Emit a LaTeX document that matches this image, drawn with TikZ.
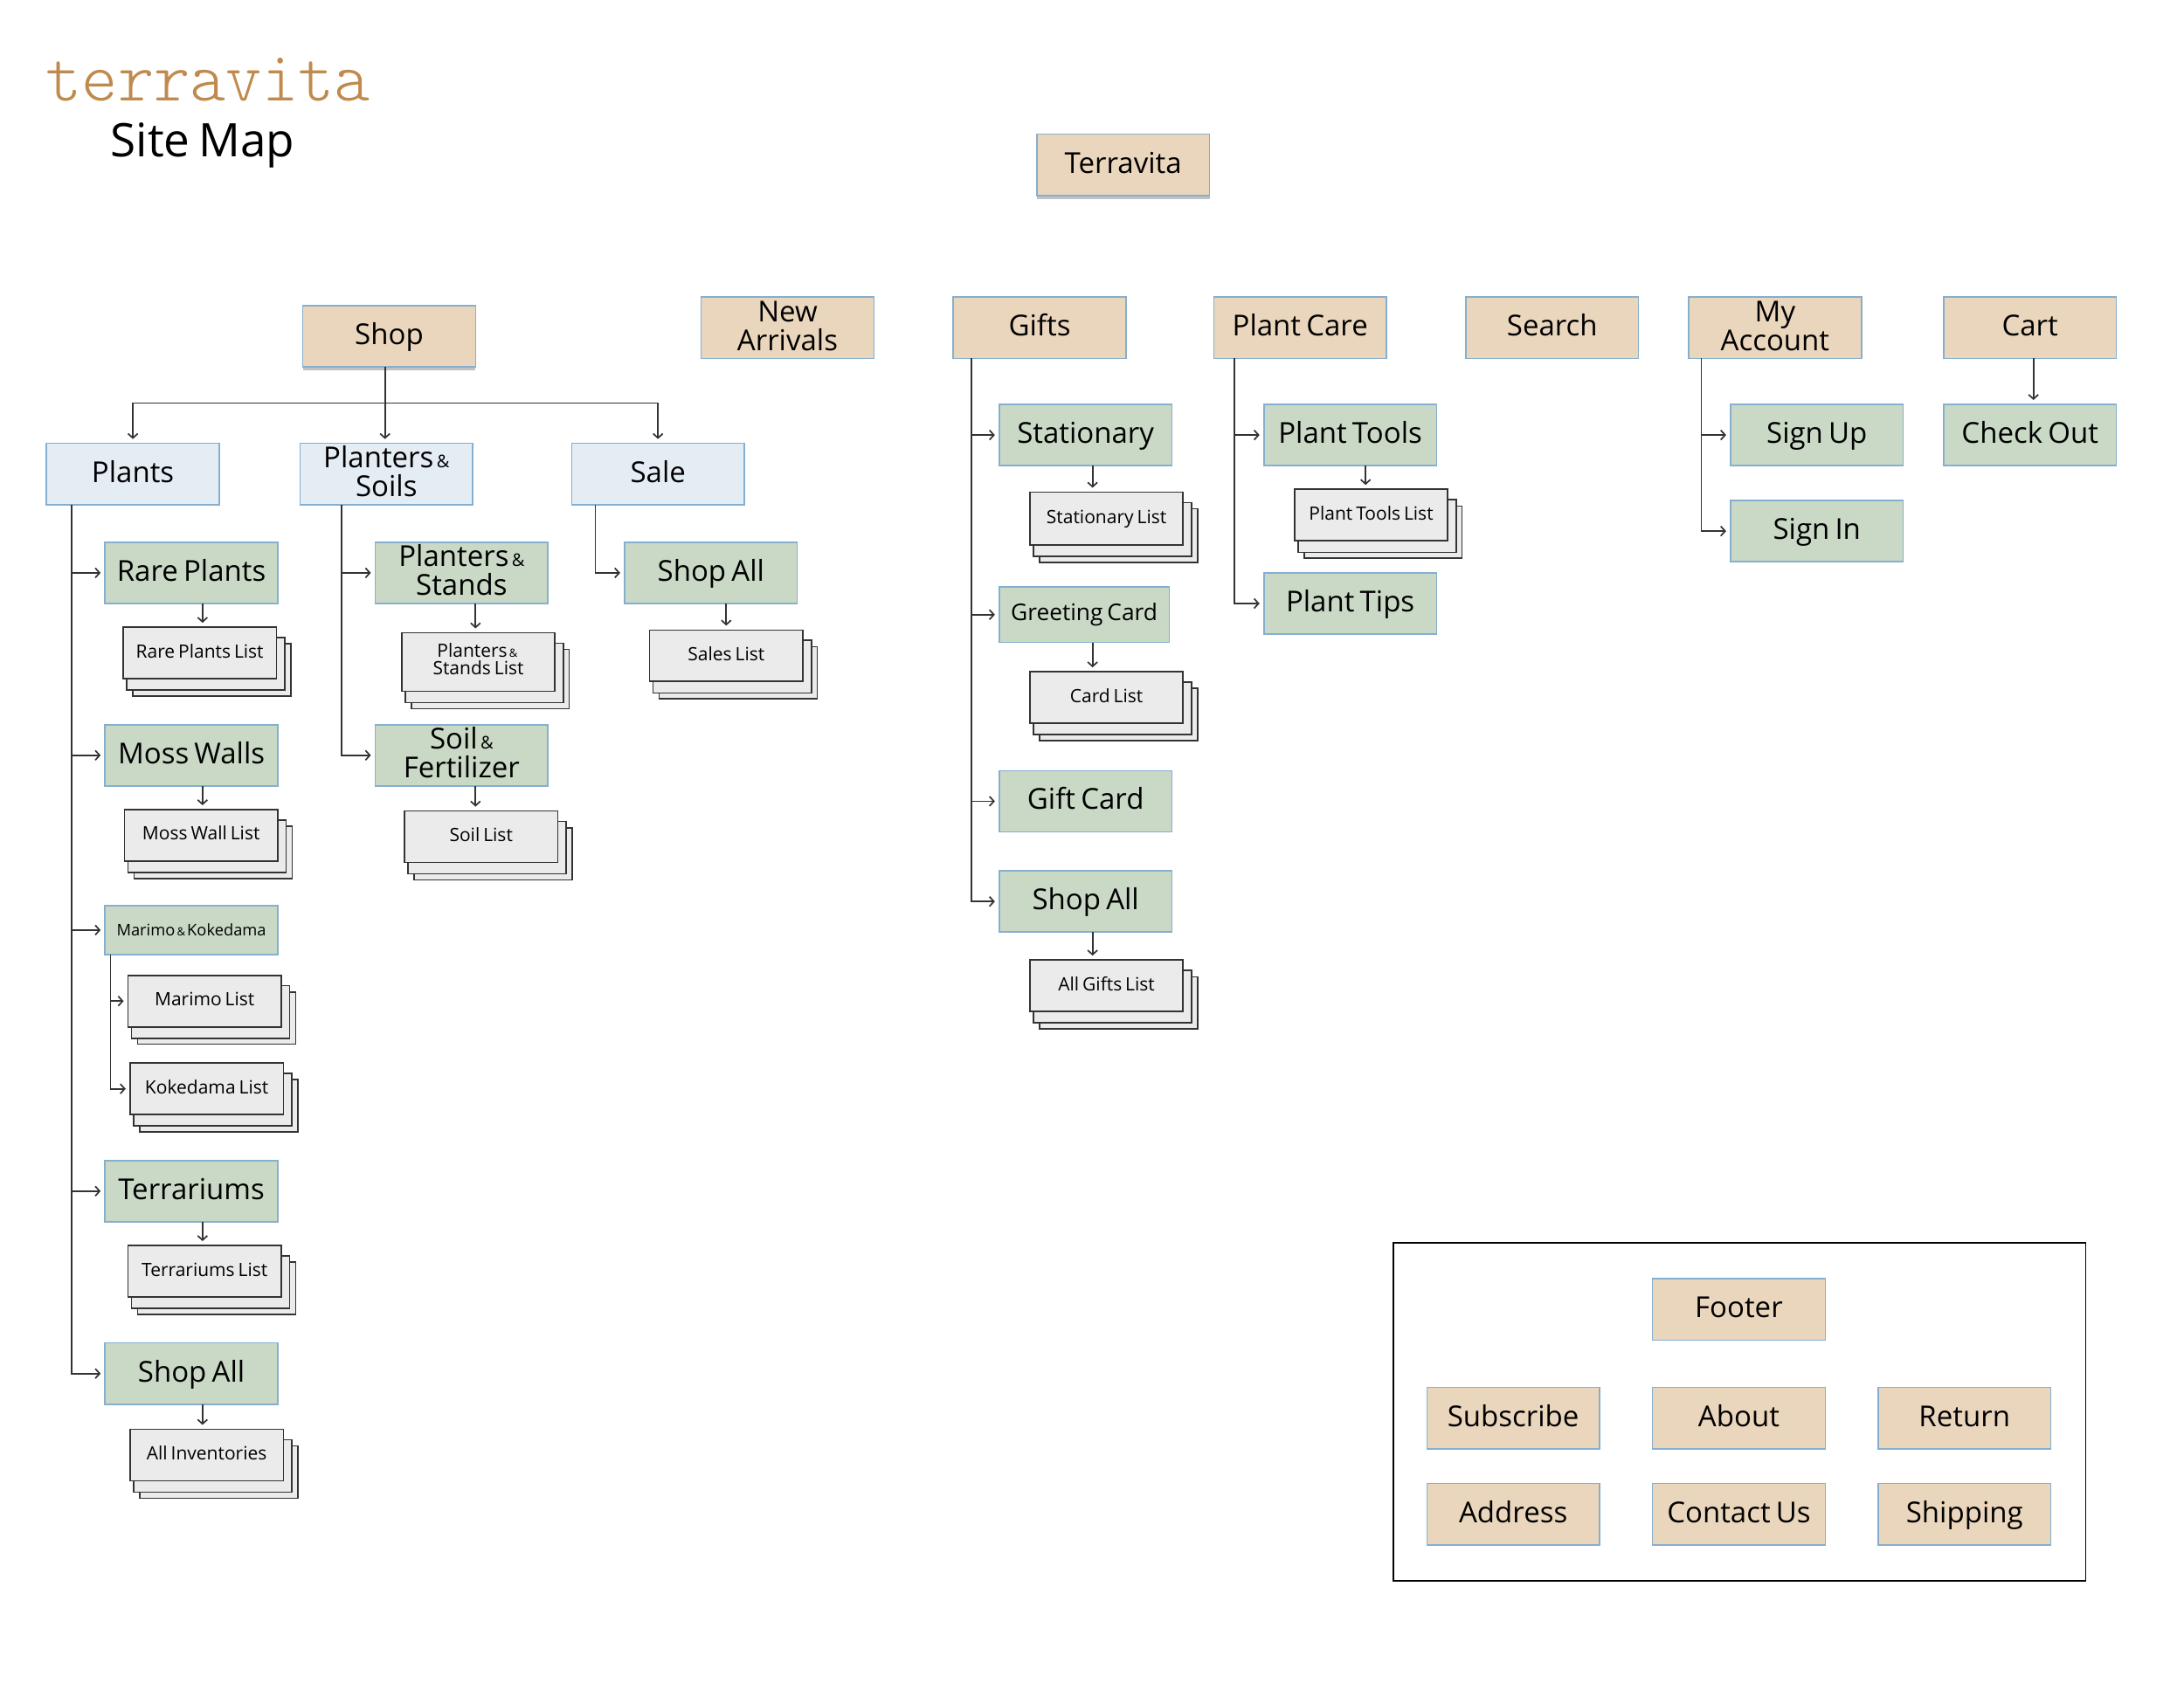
\documentclass[tikz,border=0pt]{standalone}
\usepackage{fontspec}
\setmainfont[WordSpace=0.72]{Open Sans}
\newfontfamily\logofont{Latin Modern Mono Light}
\usetikzlibrary{arrows.meta,shadows}
\definecolor{beige}{HTML}{EAD6BC}
\definecolor{paleblue}{HTML}{E4ECF4}
\definecolor{sage}{HTML}{C9D9C6}
\definecolor{edgeblue}{HTML}{86AFCF}
\definecolor{stackfill}{HTML}{EBEBEB}
\definecolor{linegray}{HTML}{333333}
\definecolor{logobrown}{HTML}{C08A4E}
\newcommand{\tp}{\rule{0pt}{27pt}}
\newcommand{\bt}{\rule[-8pt]{0pt}{8pt}}
\newcommand{\amp}{{\fontsize{20}{20}\selectfont\,\&}}
\newcommand{\ampS}{{\fontsize{13}{13}\selectfont\,\&\,}}
\newcommand{\bx}[7][]{\node[boxbase,#2,#1,minimum width={(#5-#3)*1.5944pt},minimum height={(#6-#4)*1.5944pt}] (#7) at ({(#3+#5)/2},{(#4+#6)/2})}
\newcommand{\stk}[6][]{%
  \draw[stacklayer] ({#3+6.9},{#4+12}) rectangle ({#5+10.3},{#6+12.5});
  \draw[stacklayer] ({#3+2.5},{#4+7.5}) rectangle ({#5+6.1},{#6+8.2});
  \node[stackfront,#1,minimum width={(#5-#3)*1.5944pt},minimum height={(#6-#4)*1.5944pt}] (#2) at ({(#3+#5)/2},{(#4+#6)/2})}
\newcommand{\vc}[3]{\coordinate (tmpv) at (#3,0); \draw[conn] (#1.south -| tmpv) -- (#2.north -| tmpv);}
\tikzset{
  boxbase/.style={draw=edgeblue,line width=1.6pt,inner sep=0pt,outer sep=0pt,align=center,font=\fontsize{33}{33}\selectfont},
  toptier/.style={fill=beige},
  midtier/.style={fill=paleblue},
  subtier/.style={fill=sage},
  panel/.style={draw=black,fill=white},
  softshadow/.style={drop shadow={shadow xshift=0pt,shadow yshift=-4pt,opacity=.4,fill=black!60}},
  stacklayer/.style={draw=linegray,fill=stackfill,line width=1.6pt},
  stackfront/.style={draw=linegray,fill=stackfill,line width=1.6pt,inner sep=0pt,outer sep=0pt,align=center,font=\fontsize{21}{20.5}\selectfont,
    execute at begin node={\rule{0pt}{18pt}},execute at end node={\rule[-7pt]{0pt}{7pt}}},
  conn/.style={draw=linegray,line width=1.7pt,-{Straight Barb[length=5pt,width=11pt]},shorten >=5pt},
}
\begin{document}
\begin{tikzpicture}[x=1.59439pt,y=-1.59437pt]
\useasboundingbox (0,0) rectangle (1568,1208);
\fill[white] (0,0) rectangle (1568,1208);
\begin{scope}[shift={(0.4,0.4)}]

\node[font=\fontsize{81}{81}\logofont\selectfont,text=logobrown,anchor=base,inner sep=0pt,xscale=.97] (logo) at (149,72) {terravita};
\node[font=\fontsize{53}{53}\selectfont,anchor=base,inner sep=0pt] (title) at (145,112) {Site Map};

% top tier
\bx[softshadow]{toptier}{744}{96}{868}{140}{terravita} {\tp\bt Terravita};
\bx[softshadow]{toptier}{217}{219}{341}{263}{shop} {\tp\bt Shop};
\bx{toptier}{503}{213}{627}{257}{newarr} {\tp New\\\bt Arrivals};
\bx{toptier}{684}{213}{808}{257}{gifts} {\tp\bt Gifts};
\bx{toptier}{871}{213}{995}{257}{care} {\tp\bt Plant Care};
\bx{toptier}{1052}{213}{1176}{257}{search} {\tp\bt Search};
\bx{toptier}{1212}{213}{1336}{257}{account} {\tp My\\\bt Account};
\bx{toptier}{1395}{213}{1519}{257}{cart} {\tp\bt Cart};

% second tier
\bx{midtier}{33}{318}{157}{362}{plants} {\tp\bt Plants};
\bx{midtier}{215}{318}{339}{362}{planters} {\tp Planters\amp\\\bt Soils};
\bx{midtier}{410}{318}{534}{362}{sale} {\tp\bt Sale};

% plants column
\bx{subtier}{75}{389}{199}{433}{rare} {\tp\bt Rare Plants};
\bx{subtier}{75}{520}{199}{564}{moss} {\tp\bt Moss Walls};
\bx[font=\fontsize{18.3}{20}\selectfont]{subtier}{75}{650}{199}{685}{marimo} {Marimo\ampS Kokedama};
\bx{subtier}{75}{833}{199}{877}{terr} {\tp\bt Terrariums};
\bx{subtier}{75}{964}{199}{1008}{shopallA} {\tp\bt Shop All};
\stk{rarelist}{88}{450}{198}{487} {Rare Plants List};
\stk{mosslist}{89}{581}{199}{618} {Moss Wall List};
\stk{marimolist}{91.5}{700}{201.5}{737} {Marimo List};
\stk{kokelist}{93}{763}{203}{800} {Kokedama List};
\stk{terrlist}{91.5}{894}{201.5}{931} {Terrariums List};
\stk{invlist}{93}{1026}{203}{1063} {All Inventories};

% planters column
\bx{subtier}{269}{389}{393}{433}{stands} {\tp Planters\amp\\\bt Stands};
\bx{subtier}{269}{520}{393}{564}{soil} {\tp Soil\amp\\\bt Fertilizer};
\stk{standslist}{288}{454}{398}{496} {Planters\ampS\\Stands List};
\stk{soillist}{290}{582}{400}{619} {Soil List};

% sale column
\bx{subtier}{448}{389}{572}{433}{shopallB} {\tp\bt Shop All};
\stk{saleslist}{466}{452}{576}{489} {Sales List};

% gifts column
\bx{subtier}{717}{290}{841}{334}{stationary} {\tp\bt Stationary};
\bx[font=\fontsize{26.3}{30}\selectfont]{subtier}{717}{421}{839}{461}{greeting} {Greeting Card};
\bx{subtier}{717}{553}{841}{597}{giftcard} {\tp\bt Gift Card};
\bx{subtier}{717}{625}{841}{669}{shopallC} {\tp\bt Shop All};
\stk{statlist}{739}{353}{849}{391} {Stationary List};
\stk{cardlist}{739}{482}{849}{519} {Card List};
\stk{giftslist}{739}{689}{849}{726} {All Gifts List};

% plant care column
\bx{subtier}{907}{290}{1031}{334}{tools} {\tp\bt Plant Tools};
\bx{subtier}{907}{411}{1031}{455}{tips} {\tp\bt Plant Tips};
\stk{toolslist}{929}{351}{1039}{388} {Plant Tools List};

% account and cart
\bx{subtier}{1242}{290}{1366}{334}{signup} {\tp\bt Sign Up};
\bx{subtier}{1242}{359}{1366}{403}{signin} {\tp\bt Sign In};
\bx{subtier}{1395}{290}{1519}{334}{checkout} {\tp\bt Check Out};

% footer panel
\bx{panel}{1000}{892}{1497}{1135}{footerpanel} {};
\bx{toptier}{1186}{918}{1310}{962}{footer} {\tp\bt Footer};
\bx{toptier}{1024}{996}{1148}{1040}{subscribe} {\tp\bt Subscribe};
\bx{toptier}{1186}{996}{1310}{1040}{about} {\tp\bt About};
\bx{toptier}{1348}{996}{1472}{1040}{return} {\tp\bt Return};
\bx{toptier}{1024}{1065}{1148}{1109}{address} {\tp\bt Address};
\bx{toptier}{1186}{1065}{1310}{1109}{contact} {\tp\bt Contact Us};
\bx{toptier}{1348}{1065}{1472}{1109}{shipping} {\tp\bt Shipping};

% connectors
\coordinate (shopjoin) at (276,289);
\draw[conn] (shop.south -| shopjoin) -- (planters.north -| shopjoin);
\draw[conn] (shopjoin) -| (plants.north);
\draw[conn] (shopjoin) -| (sale.north);

\coordinate (spA) at (51,0);
\foreach \t in {rare,moss,marimo,terr,shopallA}
  \draw[conn] (plants.south -| spA) |- (\t.west);
\coordinate (spB) at (245,0);
\foreach \t in {stands,soil}
  \draw[conn] (planters.south -| spB) |- (\t.west);
\coordinate (spC) at (427,0);
\draw[conn] (sale.south -| spC) |- (shopallB.west);
\coordinate (spD) at (697,0);
\foreach \t in {stationary,greeting,giftcard,shopallC}
  \draw[conn] (gifts.south -| spD) |- (\t.west);
\coordinate (spE) at (886,0);
\foreach \t in {tools,tips}
  \draw[conn] (care.south -| spE) |- (\t.west);
\coordinate (spF) at (1221,0);
\foreach \t in {signup,signin}
  \draw[conn] (account.south -| spF) |- (\t.west);
\coordinate (spG) at (79,0);
\foreach \t in {marimolist,kokelist}
  \draw[conn] (marimo.south -| spG) |- (\t.west);

\vc{cart}{checkout}{1459.5}
\vc{rare}{rarelist}{145}
\vc{moss}{mosslist}{145}
\vc{terr}{terrlist}{145}
\vc{shopallA}{invlist}{145}
\vc{stands}{standslist}{341}
\vc{soil}{soillist}{341}
\vc{shopallB}{saleslist}{521}
\vc{stationary}{statlist}{784}
\vc{greeting}{cardlist}{784}
\vc{shopallC}{giftslist}{784}
\vc{tools}{toolslist}{980}
\end{scope}
\end{tikzpicture}
\end{document}
